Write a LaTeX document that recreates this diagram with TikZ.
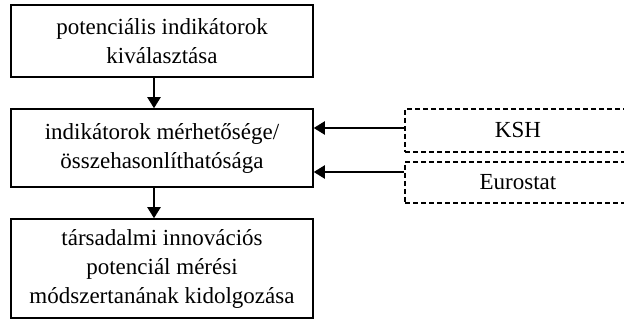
\documentclass[tikz,border=0pt]{standalone}
\usepackage{fontspec}
\setmainfont{Liberation Serif}
\usetikzlibrary{arrows.meta}
\begin{document}
\begin{tikzpicture}[x=1pt,y=-1pt,
 box/.style={draw, line width=1.5pt, minimum width=302pt, align=center, font=\fontsize{23}{29}\selectfont, inner sep=0pt},
 src/.style={draw, dash pattern=on 5pt off 3pt, line width=1.2pt, minimum width=226pt, font=\fontsize{23}{28}\selectfont, inner sep=0pt},
 arr/.style={line width=2pt, -{Triangle[length=11pt,width=13pt]}}]
\useasboundingbox (0,0) rectangle (624,320);
\clip (0,0) rectangle (624,320);
\node[box, minimum height=72pt] (b1) at (162,41) {potenciális indikátorok\\kiválasztása};
\node[box, minimum height=78pt] (b2) at (162,148) {indikátorok mérhetősége/\\összehasonlíthatósága};
\node[box, minimum height=99pt] (b3) at (162,268.5) {társadalmi innovációs\\potenciál mérési\\módszertanának kidolgozása};
\node[src, minimum height=43pt] (ksh) at (518,130.5) {KSH};
\node[src, minimum height=41pt] (euro) at (518,182.5) {Eurostat};
\draw[arr] ([xshift=-8pt]b1.south) -- ([xshift=-8pt]b2.north);
\draw[arr] ([xshift=-8pt]b2.south) -- ([xshift=-8pt]b3.north);
\draw[arr] ([yshift=2.5pt]ksh.west) -- ([yshift=2.5pt]ksh.west -| b2.east);
\draw[arr] ([yshift=10.5pt]euro.west) -- ([yshift=10.5pt]euro.west -| b2.east);
\end{tikzpicture}
\end{document}
